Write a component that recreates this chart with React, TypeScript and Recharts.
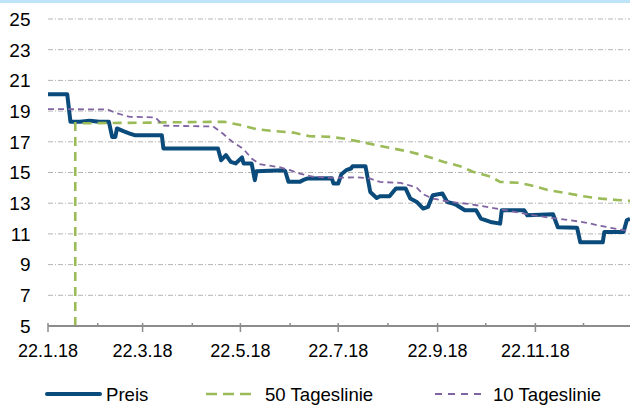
import React from "react";
import { LineChart, Line, XAxis, YAxis, CartesianGrid } from "recharts";

// ---------- data ----------
const preisDaten = [
  "2018-01-22", "2018-02-03", "2018-02-05", "2018-02-11", "2018-02-17", "2018-02-23", "2018-03-01", "2018-03-03",
  "2018-03-05", "2018-03-06", "2018-03-10", "2018-03-14", "2018-03-17", "2018-04-03", "2018-04-04", "2018-05-08",
  "2018-05-10", "2018-05-13", "2018-05-16", "2018-05-19", "2018-05-23", "2018-05-24", "2018-05-29", "2018-05-31",
  "2018-06-01", "2018-06-09", "2018-06-18", "2018-06-19", "2018-06-21", "2018-06-28", "2018-06-30", "2018-07-03",
  "2018-07-18", "2018-07-19", "2018-07-22", "2018-07-24", "2018-07-27", "2018-07-30", "2018-07-31", "2018-08-08",
  "2018-08-11", "2018-08-15", "2018-08-17", "2018-08-23", "2018-08-27", "2018-09-02", "2018-09-05", "2018-09-09",
  "2018-09-13", "2018-09-16", "2018-09-19", "2018-09-25", "2018-09-28", "2018-10-01", "2018-10-04", "2018-10-09",
  "2018-10-16", "2018-10-19", "2018-10-25", "2018-10-31", "2018-11-01", "2018-11-15", "2018-11-17", "2018-12-03",
  "2018-12-06", "2018-12-18", "2018-12-20", "2019-01-03", "2019-01-04", "2019-01-16", "2019-01-18", "2019-01-20",
];
const preisWerte = [
  20.1, 20.1, 18.3, 18.31, 18.37, 18.3, 18.3, 17.32,
  17.32, 17.87, 17.69, 17.54, 17.43, 17.43, 16.57, 16.57,
  15.8, 16.13, 15.69, 15.59, 15.98, 15.59, 15.59, 14.5,
  15.08, 15.12, 15.15, 15.08, 14.39, 14.39, 14.5, 14.61,
  14.63, 14.28, 14.28, 14.89, 15.15, 15.26, 15.41, 15.41,
  13.73, 13.34, 13.45, 13.45, 13.96, 13.96, 13.3, 13.08,
  12.65, 12.76, 13.52, 13.63, 13.08, 13.0, 12.87, 12.54,
  12.54, 12.0, 11.78, 11.67, 12.54, 12.54, 12.21, 12.28,
  11.43, 11.4, 10.45, 10.45, 11.13, 11.13, 11.89, 11.99,
];

const tage50Daten = [
  "2018-02-08", "2018-02-08", "2018-03-26", "2018-05-03", "2018-05-12", "2018-05-22", "2018-06-01", "2018-06-13",
  "2018-06-24", "2018-07-04", "2018-07-17", "2018-07-25", "2018-08-05", "2018-08-15", "2018-08-25", "2018-09-05",
  "2018-09-16", "2018-09-26", "2018-10-06", "2018-10-14", "2018-10-25", "2018-10-31", "2018-11-11", "2018-11-19",
  "2018-11-30", "2018-12-12", "2018-12-22", "2019-01-02", "2019-01-12", "2019-01-20",
];
const tage50Werte = [
  5, 18.2, 18.25, 18.3, 18.3, 18.09, 17.82, 17.69,
  17.6, 17.37, 17.32, 17.22, 17.0, 16.78, 16.57, 16.34,
  16.03, 15.69, 15.41, 15.05, 14.73, 14.39, 14.33, 14.17,
  13.85, 13.65, 13.45, 13.3, 13.21, 13.15,
];

const tage10Daten = [
  "2018-01-22", "2018-02-28", "2018-03-06", "2018-03-14", "2018-03-30", "2018-04-04", "2018-05-05", "2018-05-11",
  "2018-05-17", "2018-05-24", "2018-05-29", "2018-06-03", "2018-06-16", "2018-06-22", "2018-06-28", "2018-07-06",
  "2018-07-19", "2018-08-03", "2018-08-11", "2018-08-17", "2018-08-30", "2018-09-05", "2018-09-09", "2018-09-13",
  "2018-09-19", "2018-09-30", "2018-10-11", "2018-10-25", "2018-11-06", "2018-11-21", "2018-12-01", "2018-12-14",
  "2018-12-25", "2018-12-31", "2019-01-08", "2019-01-16", "2019-01-20",
];
const tage10Werte = [
  19.13, 19.11, 18.85, 18.63, 18.59, 18.05, 18.0, 17.54,
  17.0, 16.52, 15.91, 15.54, 15.33, 15.15, 14.93, 14.73,
  14.65, 14.69, 14.6, 14.39, 14.32, 14.14, 14.01, 13.58,
  13.3, 13.08, 12.96, 12.72, 12.5, 12.21, 12.06, 11.89,
  11.71, 11.56, 11.4, 11.24, 11.2,
];

const yTicks = [5, 7, 9, 11, 13, 15, 17, 19, 21, 23, 25];
const xTickDaten = [
  "2018-01-22", "2018-02-22", "2018-03-22", "2018-04-22", "2018-05-22", "2018-06-22",
  "2018-07-22", "2018-08-22", "2018-09-22", "2018-10-22", "2018-11-22", "2018-12-22",
];
const xTickLabels = ["22.1.18", "22.3.18", "22.5.18", "22.7.18", "22.9.18", "22.11.18"];
const xStart = "2018-01-22";
const xEnde = "2019-01-20";

const seriesNames = ["Preis", "50 Tageslinie", "10 Tageslinie"];

// ---------- helpers ----------
const toT = (s: string) => {
  const [y, m, d] = s.split("-").map(Number);
  return Date.UTC(y, m - 1, d);
};
const fmt = (t: number) => {
  const d = new Date(t);
  return `${d.getUTCDate()}.${d.getUTCMonth() + 1}.${String(d.getUTCFullYear()).slice(2)}`;
};
const build = (dates: string[], vals: number[]) => dates.map((s, i) => ({ t: toT(s), v: vals[i] }));

const preisData = build(preisDaten, preisWerte);
const tage50Data = build(tage50Daten, tage50Werte);
const tage10Data = build(tage10Daten, tage10Werte);
const xTicks = xTickDaten.map(toT);

const FONT = "'Liberation Sans', Arial, sans-serif";
const C_PREIS = "#0b4b7b";
const C_50 = "#9bbb59";
const C_10 = "#8064a2";
const AXIS_Y = 326;

const W = 630;
const H = 407;

const XTick = (props: any) => {
  const { x, payload } = props;
  const label = fmt(payload.value);
  const major = xTickLabels.includes(label);
  return (
    <g>
      <line x1={x} x2={x} y1={AXIS_Y - 3} y2={major ? AXIS_Y + 6 : AXIS_Y} stroke="#8c8c8c" strokeWidth={1.5} />
      {major && (
        <text x={x} y={357} textAnchor="middle" fontSize={18} fontFamily={FONT} fill="#000">
          {label}
        </text>
      )}
    </g>
  );
};

const YTick = (props: any) => {
  const { y, payload } = props;
  return (
    <text x={30.5} y={y} dy="0.36em" textAnchor="end" fontSize={19} fontFamily={FONT} fill="#000">
      {payload.value}
    </text>
  );
};

export default function App() {
  return (
    <div style={{ position: "absolute", left: 0, top: 0, width: W, height: H, background: "#fff", overflow: "hidden" }}>
      <div style={{ position: "absolute", left: 0, top: 0, width: W, height: 3, background: "#bfe3f8" }} />
      <LineChart width={W} height={H} data={preisData} margin={{ top: 19, right: 0, left: 0, bottom: 51 }}>
        <CartesianGrid vertical={false} stroke="#b5b5b5" strokeDasharray="5 2 1 2" />
        <XAxis
          dataKey="t"
          type="number"
          domain={[toT(xStart), toT(xEnde)]}
          ticks={xTicks}
          tick={<XTick />}
          tickLine={false}
          axisLine={{ stroke: "#8c8c8c", strokeWidth: 2 }}
          height={30}
          interval={0}
          allowDataOverflow
        />
        <YAxis
          type="number"
          domain={[5, 25]}
          ticks={yTicks}
          tick={<YTick />}
          tickLine={false}
          axisLine={false}
          width={48}
          interval={0}
        />
        <Line
          data={preisData}
          dataKey="v"
          name={seriesNames[0]}
          stroke={C_PREIS}
          strokeWidth={4}
          dot={false}
          activeDot={false}
          type="linear"
          strokeLinejoin="round"
          isAnimationActive={false}
        />
        <Line
          data={tage50Data}
          dataKey="v"
          name={seriesNames[1]}
          stroke={C_50}
          strokeWidth={2.6}
          strokeDasharray="9 6"
          dot={false}
          activeDot={false}
          type="linear"
          isAnimationActive={false}
        />
        <Line
          data={tage10Data}
          dataKey="v"
          name={seriesNames[2]}
          stroke={C_10}
          strokeWidth={1.8}
          strokeDasharray="6 4"
          dot={false}
          activeDot={false}
          type="linear"
          isAnimationActive={false}
        />
      </LineChart>
      <svg width={W} height={H} style={{ position: "absolute", left: 0, top: 0, pointerEvents: "none" }}>
        <line x1={47} x2={100} y1={394} y2={394} stroke={C_PREIS} strokeWidth={4} strokeLinecap="round" />
        <text x={106} y={400.5} fontSize={18.6} fontFamily={FONT} fill="#000">{seriesNames[0]}</text>
        <line x1={206} x2={251} y1={394} y2={394} stroke={C_50} strokeWidth={2.6} strokeDasharray="11 6" />
        <text x={265} y={400.5} fontSize={18.6} fontFamily={FONT} fill="#000">{seriesNames[1]}</text>
        <line x1={435} x2={481} y1={394} y2={394} stroke={C_10} strokeWidth={1.8} strokeDasharray="7 6" />
        <text x={493} y={400.5} fontSize={18.6} fontFamily={FONT} fill="#000">{seriesNames[2]}</text>
      </svg>
    </div>
  );
}
